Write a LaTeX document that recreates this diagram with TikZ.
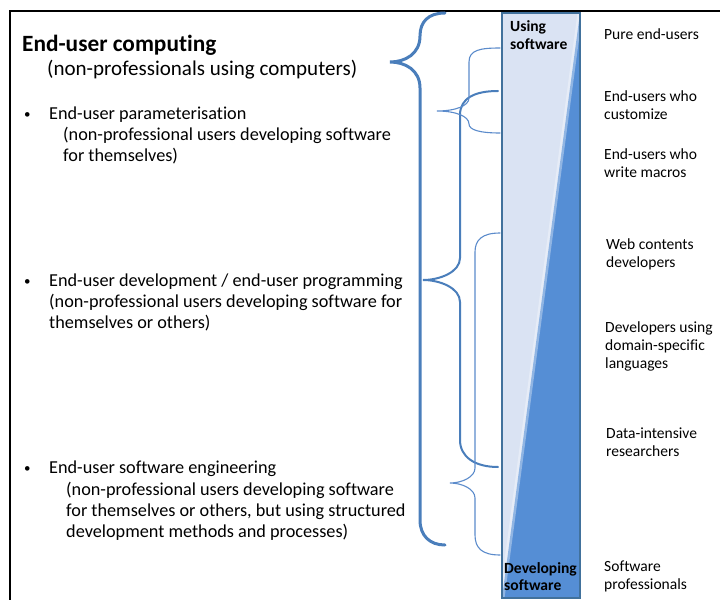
\documentclass[tikz,border=0pt]{standalone}
\usepackage{fontspec}
\setmainfont{Carlito}[Ligatures=NoCommon]
\definecolor{braceblue}{HTML}{4A7EBB}
\definecolor{thinblue}{HTML}{5B8BCB}
\definecolor{barlight}{HTML}{DAE3F3}
\definecolor{bardark}{HTML}{558ED5}
\definecolor{baredge}{HTML}{41719C}
\begin{document}
\begin{tikzpicture}[x=1bp,y=-1bp,
  txt/.style={anchor=base west, inner sep=0pt, text=black},
  title/.style={txt, font=\fontsize{23.4}{28}\selectfont\bfseries},
  subtitle/.style={txt, font=\fontsize{21.1}{24}\selectfont},
  item/.style={txt, font=\fontsize{18.3}{21}\selectfont},
  dot/.style={txt, font=\fontsize{13}{21}\selectfont},
  side/.style={txt, font=\fontsize{15.6}{18}\selectfont},
  barlabel/.style={txt, font=\fontsize{15.6}{18}\selectfont\bfseries},
  bigbrace/.style={draw=braceblue, line width=3bp, line cap=round},
  midbrace/.style={draw=braceblue, line width=2bp, line cap=round},
  smallbrace/.style={draw=thinblue, line width=1.1bp, line cap=round}]
\useasboundingbox (0,0) rectangle (720,600);

% frame
\draw[black, line width=2bp] (10,600) -- (10,11) -- (720,11);

% gradient bar: using -> developing
\fill[barlight] (502,13) rectangle (580,598);
\fill[bardark] (580,13) -- (580,598) -- (502,598) -- cycle;
\begin{scope}
  \clip (502,13) rectangle (580,598);
  \draw[white, opacity=0.35, line width=5bp] (580,13) -- (502,598);
\end{scope}
\draw[baredge, line width=1.8bp] (502,13) rectangle (580,598);
\node[barlabel] (using1) at (510,32) {Using};
\node[barlabel] (using2) at (510,50) {software};
\node[barlabel] (dev1) at (504,573) {Developing};
\node[barlabel] (dev2) at (504,590) {software};

% braces
\draw[bigbrace] (445,13) .. controls (428,13) and (420,22) .. (420,36)
  .. controls (420,54) and (405,62) .. (390,62)
  .. controls (405,62) and (420,70) .. (420,88) -- (420,520)
  .. controls (420,536) and (430,545) .. (445,545);
\draw[midbrace] (498,91) .. controls (475,91) and (460,98) .. (460,115) -- (460,258)
  .. controls (460,272) and (440,280) .. (423,280)
  .. controls (440,280) and (460,288) .. (460,302) -- (460,440)
  .. controls (460,457) and (475,467) .. (498,467);
\draw[smallbrace] (500,48) .. controls (480,48) and (469,50) .. (469,62) -- (469,98)
  .. controls (469,106) and (455,111) .. (437,111)
  .. controls (455,111) and (469,116) .. (469,124)
  .. controls (469,130) and (480,133) .. (500,133);
\draw[smallbrace] (500,233) .. controls (482,233) and (475,240) .. (475,252) -- (475,468)
  .. controls (475,477) and (462,483) .. (450,483)
  .. controls (462,483) and (475,489) .. (475,498) -- (475,535)
  .. controls (475,548) and (482,555) .. (500,555);

% left column
\node[title] (t0) at (22,52) {End-user computing};
\node[subtitle] (t1) at (47,76) {(non-professionals using computers)};

\node[dot] (b1) at (24,119) {•};
\node[item] (p1) at (49,120) {End-user parameterisation};
\node[item] (p2) at (63,141) {(non-professional users developing software};
\node[item] (p3) at (63,162) {for themselves)};

\node[dot] (b2) at (24,285) {•};
\node[item] (d1) at (49,286) {End-user development / end-user programming};
\node[item] (d2) at (49,307) {(non-professional users developing software for};
\node[item] (d3) at (49,328) {themselves or others)};

\node[dot] (b3) at (24,472) {•};
\node[item] (e1) at (49,473) {End-user software engineering};
\node[item] (e2) at (66,495) {(non-professional users developing software};
\node[item] (e3) at (66,516) {for themselves or others, but using structured};
\node[item] (e4) at (66,537) {development methods and processes)};

% right column
\node[side] (r1) at (604,40) {Pure end-users};
\node[side] (r2a) at (604,102) {End-users who};
\node[side] (r2b) at (604,120) {customize};
\node[side] (r3a) at (604,160) {End-users who};
\node[side] (r3b) at (604,178) {write macros};
\node[side] (r4a) at (606,249) {Web contents};
\node[side] (r4b) at (606,267) {developers};
\node[side] (r5a) at (605,332) {Developers using};
\node[side] (r5b) at (605,350) {domain-specific};
\node[side] (r5c) at (605,368) {languages};
\node[side] (r6a) at (606,438) {Data-intensive};
\node[side] (r6b) at (606,456) {researchers};
\node[side] (r7a) at (604,571) {Software};
\node[side] (r7b) at (604,589) {professionals};
\end{tikzpicture}
\end{document}
